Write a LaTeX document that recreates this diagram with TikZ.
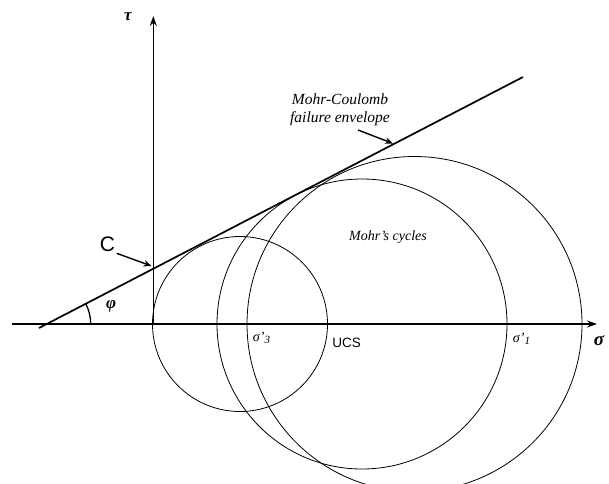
\documentclass[tikz,border=0pt]{standalone}
\usepackage{fontspec}
\setmainfont{Liberation Serif}
\newfontfamily\arialf{Liberation Sans}
\usetikzlibrary{arrows.meta}
\begin{document}
\begin{tikzpicture}[x=1pt,y=-1pt,
  axisline/.style={line width=1.6pt,-{Stealth[length=10pt,width=7pt]}},
  envline/.style={line width=1.7pt},
  circ/.style={line width=0.8pt},
  pointer/.style={line width=1.4pt,-{Stealth[length=8pt,width=6.5pt]}},
  lbl/.style={inner sep=0pt},
  itl/.style={lbl,font=\fontsize{14}{18}\selectfont\itshape},
  greek/.style={lbl,font=\fontsize{17}{19}\selectfont\bfseries\itshape},
]
\clip (0,0) rectangle (609,483);
\fill[white] (0,0) rectangle (609,483);
% key points
\coordinate (O) at (153.3,324);
\coordinate (xs) at (12,324);
\coordinate (xe) at (597,324);
\coordinate (ye) at (153.3,16);
\coordinate (E0) at (39,328);
\coordinate (E1) at (523,77);
\coordinate (V) at (46.7,324);
\coordinate (c1) at (240,324);
\coordinate (c2) at (362,324);
\coordinate (c3) at (414.5,324);
% circles
\draw[circ] (c1) circle[radius=87.5pt];
\draw[circ] (c2) circle[radius=145pt];
\draw[circ] (c3) circle[radius=167.5pt];
% axes
\draw[axisline] (xs) -- (xe);
\draw[axisline] (O) -- (ye);
% envelope
\draw[envline] (E0) -- (E1);
% angle arc
\draw[line width=1.3pt] (V) ++(44,0) arc[start angle=0,end angle=-27.4,radius=44];
% labels
\node[greek] (tau) at (128,17) {τ};
\node[greek,font=\fontsize{19}{21}\selectfont\bfseries\itshape] (sig) at (599,341) {σ};
\node[greek] (phi) at (111,306) {φ};
\node[lbl,font=\arialf\fontsize{21}{23}\selectfont] (Clbl) at (107.5,244) {C};
\node[lbl,font=\fontsize{14}{16}\selectfont\itshape] (s3) at (261.5,338) {σ’\raisebox{-2.5pt}{\fontsize{11}{12}\selectfont 3}};
\node[lbl,font=\fontsize{14}{16}\selectfont\itshape] (s1) at (521.5,339) {σ’\raisebox{-2.5pt}{\fontsize{11}{12}\selectfont 1}};
\node[lbl,font=\arialf\fontsize{13.5}{15}\selectfont] (ucs) at (346.5,342.5) {UCS};
\node[itl] (cyc) at (388,237) {Mohr’s cycles};
\node[itl,align=center,font=\fontsize{15.5}{18}\selectfont\itshape] (mc) at (340,110) {Mohr-Coulomb\\failure envelope};
% pointers
\coordinate (Cpt) at (151.5,266);
\coordinate (Cst) at (116.7,253.3);
\draw[pointer] (Cst) -- (Cpt);
\coordinate (mcs) at (358,130);
\coordinate (mct) at (393,143.5);
\draw[pointer] (mcs) -- (mct);
\end{tikzpicture}
\end{document}
